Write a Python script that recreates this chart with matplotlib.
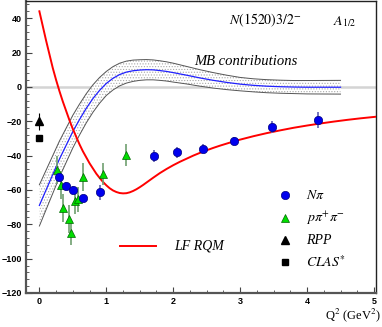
import matplotlib
matplotlib.use('Agg')
import matplotlib.pyplot as plt
import numpy as np
from matplotlib.ticker import MultipleLocator

plt.rcParams['mathtext.fontset'] = 'stix'
plt.rcParams['hatch.linewidth'] = 0.5

# N pi data
q2_npi = [0.30, 0.40, 0.50, 0.65, 0.90, 1.72, 2.05, 2.44, 2.91, 3.48, 4.16]
a_npi = [-52.3, -57.5, -59.8, -64.8, -61.3, -40.1, -38.2, -35.9, -31.5, -23.2, -19.4]
e_npi = [2.0, 2.0, 2.0, 2.0, 4.3, 3.4, 3.0, 2.5, 2.5, 3.4, 4.8]

# p pi+ pi- data
q2_ppp = [0.27, 0.32, 0.36, 0.44, 0.47, 0.53, 0.57, 0.65, 0.95, 1.30]
a_ppp = [-48.5, -57.0, -70.5, -77.0, -85.3, -66.7, -65.5, -52.6, -50.7, -39.5]
e_ppp = [8.0, 8.0, 8.0, 8.0, 7.0, 7.5, 7.5, 8.0, 6.5, 6.4]

# RPP and CLAS* at photon point
q2_rpp, a_rpp, e_rpp = [0.0], [-20.0], [5.0]
q2_clas, a_clas = [0.0], [-29.6]

# LF RQM curve
q2_lf = [0.0, 0.05, 0.1, 0.15, 0.2, 0.25, 0.3, 0.35, 0.4, 0.45, 0.5, 0.55, 0.6,
         0.65, 0.7, 0.75, 0.8, 0.85, 0.9, 0.95, 1.0, 1.05, 1.1, 1.15, 1.2, 1.25,
         1.3, 1.35, 1.4, 1.45, 1.5, 1.55, 1.6, 1.7, 1.8, 1.9, 2.0, 2.1, 2.2, 2.3,
         2.4, 2.5, 2.6, 2.7, 2.8, 2.9, 3.0, 3.2, 3.4, 3.6, 3.8, 4.0, 4.2, 4.4,
         4.6, 4.8, 5.05]
a_lf = [44, 35.5, 27, 19, 11, 4, -2.5, -8.5, -14, -19.5, -24.5, -29, -33.5,
        -37.5, -41, -44.5, -47.5, -50.5, -53, -55.3, -57.3, -59, -60.3, -61.2, -61.8, -62,
        -61.9, -61.4, -60.6, -59.6, -58.4, -57.1, -55.7, -52.9, -50.2, -47.8, -45.6, -43.6, -41.8, -40.0,
        -38.4, -36.9, -35.5, -34.2, -33.0, -31.8, -30.7, -28.7, -26.9, -25.3, -23.8, -22.5, -21.3, -20.2,
        -19.2, -18.3, -17.3]

# MB contributions band (central value and half width)
q2_mb = [0.0, 0.1, 0.2, 0.3, 0.4, 0.5, 0.6, 0.7, 0.8, 0.9, 1.0, 1.1, 1.2, 1.3,
         1.4, 1.5, 1.6, 1.7, 1.8, 1.9, 2.0, 2.2, 2.4, 2.6, 2.8, 3.0, 3.2, 3.4,
         3.6, 3.8, 4.0, 4.5]
a_mb = [-69, -60, -51, -42, -34, -26, -19, -12.5, -6.8, -2, 2, 5, 7.2, 8.6,
        9.4, 9.8, 10, 9.9, 9.5, 9.0, 8.3, 6.8, 5.2, 3.8, 2.6, 1.6, 0.9, 0.4,
        0.1, -0.1, -0.2, -0.2]
e_mb = [12, 11.5, 11, 10.5, 10, 9.5, 9, 8.5, 8, 7.5, 7, 6.8, 6.6, 6.4,
        6.2, 6.0, 5.9, 5.8, 5.7, 5.6, 5.5, 5.1, 4.8, 4.5, 4.2, 3.9, 3.8, 3.8,
        3.8, 3.8, 3.9, 4.0]

fig = plt.figure(figsize=(3.82, 3.27), dpi=100)
ax = fig.add_axes([26/382, 34/327, 350/382, 292/327])

ax.axhline(0, color='#d4d4d4', lw=1.8, zorder=0)

mb = np.array(a_mb)
mbe = np.array(e_mb)
ax.fill_between(q2_mb, mb - mbe, mb + mbe, facecolor='white', edgecolor='#aaaaaa',
                hatch='......', linewidth=0, zorder=1)
ax.plot(q2_mb, mb - mbe, color='#555555', lw=0.7, zorder=2)
ax.plot(q2_mb, mb + mbe, color='#555555', lw=0.7, zorder=2)
ax.plot(q2_mb, mb, color='#2020ff', lw=0.9, zorder=3)

ax.plot(q2_lf, a_lf, color='#ff0000', lw=1.4, zorder=4)

ax.errorbar(q2_ppp, a_ppp, yerr=e_ppp, fmt='^', color='#00dd00', mec='#006600', mew=0.5,
            ms=6, ecolor='#70a070', elinewidth=1.2, capsize=0, zorder=5)
ax.errorbar(q2_npi, a_npi, yerr=e_npi, fmt='o', color='#0000ee', mec='#000080', mew=0.5,
            ms=6, ecolor='#6060b0', elinewidth=1.2, capsize=0, zorder=6)
ax.errorbar(q2_rpp, a_rpp, yerr=e_rpp, fmt='^', color='black', ms=5.5,
            ecolor='black', elinewidth=0.8, capsize=0, zorder=6)
ax.plot(q2_clas, a_clas, 's', color='black', ms=4.5, zorder=6)

ax.set_xlim(-0.2, 5.03)
ax.set_ylim(-120, 50)
ax.xaxis.set_major_locator(MultipleLocator(1))
ax.xaxis.set_minor_locator(MultipleLocator(0.25))
ax.yaxis.set_major_locator(MultipleLocator(20))
ax.yaxis.set_minor_locator(MultipleLocator(4))
ax.tick_params(which='both', direction='in', top=False, right=False, color='#444444')
ax.tick_params(which='major', length=4, width=0.8, pad=3, labelsize=6.5)
ax.tick_params(which='minor', length=2, width=0.6)
for lab in ax.get_xticklabels() + ax.get_yticklabels():
    lab.set_fontweight('bold')
    lab.set_fontfamily('Liberation Sans')
for side in ['left', 'bottom']:
    ax.spines[side].set_linewidth(1.6)
    ax.spines[side].set_color('#555555')
for side in ['top', 'right']:
    ax.spines[side].set_linewidth(1.0)
    ax.spines[side].set_color('#222222')

serif = 'Liberation Serif'
ax.text(2.83, 38.5, r'$\mathit{N(1520)3/2}^{-}$', fontsize=10, va='center', ha='left')
ax.text(4.38, 38.0, r'$\mathit{A}_{\mathit{1/2}}$', fontsize=10, va='center', ha='left')
ax.text(2.31, 14.5, 'MB contributions', fontsize=10.5, style='italic', family=serif,
        va='center', ha='left')

# LF RQM label
ax.plot([1.20, 1.74], [-92.8, -92.8], color='#ff0000', lw=1.4)
ax.text(2.01, -92.8, 'LF RQM', fontsize=10, style='italic', family=serif, va='center')

# legend for data sets
leg_x, txt_x = 3.67, 3.98
ax.plot([leg_x], [-63.2], 'o', color='#0000ee', mec='#000080', mew=0.5, ms=6)
ax.plot([leg_x], [-76.6], '^', color='#00dd00', mec='#006600', mew=0.5, ms=6)
ax.plot([leg_x], [-89.3], '^', color='black', ms=5.5)
ax.plot([leg_x], [-102.0], 's', color='black', ms=4.5)
ax.text(txt_x, -63.2, r'$N\pi$', fontsize=10, va='center')
ax.text(txt_x, -76.6, r'$p\pi^{+}\pi^{-}$', fontsize=10, va='center')
ax.text(txt_x, -89.3, 'RPP', fontsize=10, style='italic', family=serif, va='center')
ax.text(txt_x, -102.0, r'$\mathit{CLAS}^{*}$', fontsize=10, va='center')

fig.text(381/382, 1 - 315/327, r'Q$^2$ (GeV$^2$)', fontsize=9, family=serif,
         ha='right', va='center')

fig.savefig('out.png', dpi=100)
